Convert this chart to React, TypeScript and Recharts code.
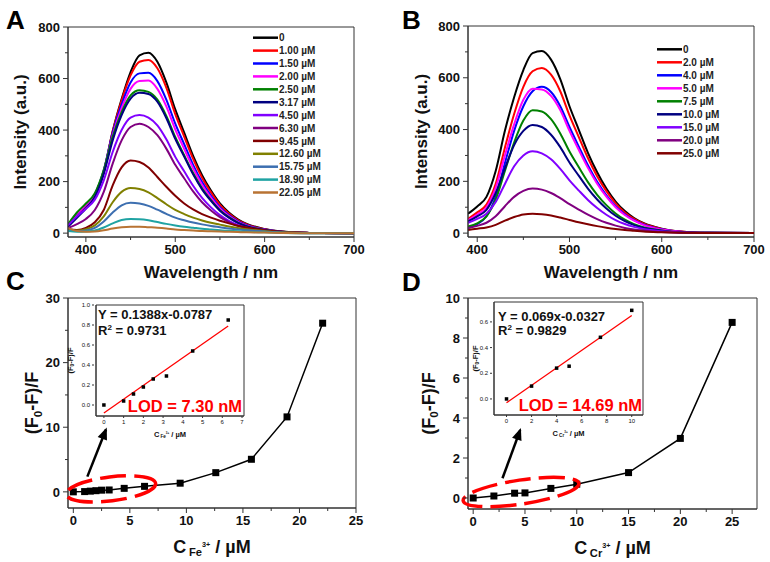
import React from 'react';
import { LineChart, Line, XAxis, YAxis, ReferenceArea, ReferenceLine, ReferenceDot, Label } from 'recharts';

const FONT = '"Liberation Sans", Arial, Helvetica, sans-serif';
const AXIS = '#333';
const RED = '#ff0000';

// ---- A: emission spectra vs Fe3+ ----
const wlFe = [380, 390, 400, 410, 420, 430, 440, 450, 460, 470, 480, 490, 500, 510, 520, 530, 540, 550, 560, 570, 580, 600, 620, 650, 700];
const feLabels = ['0', '1.00 µM', '1.50 µM', '2.00 µM', '2.50 µM', '3.17 µM', '4.50 µM', '6.30 µM', '9.45 µM', '12.60 µM', '15.75 µM', '18.90 µM', '22.05 µM'];
const feColors = ['#000000', '#ff0000', '#0000ff', '#ff00ff', '#008000', '#000080', '#8000ff', '#800080', '#800000', '#808000', '#3d6fb0', '#1fa3a3', '#b87333'];
const feI0 = [28, 70, 105, 145, 235, 395, 520, 625, 690, 700, 665, 585, 480, 390, 300, 225, 165, 115, 80, 54, 36, 16, 6, 1, 0];
const feI1 = [30, 72, 108, 148, 240, 395, 515, 612, 665, 672, 640, 565, 462, 375, 288, 215, 158, 110, 76, 51, 34, 15, 5, 1, 0];
const feI2 = [30, 75, 110, 150, 245, 390, 500, 585, 620, 622, 590, 518, 425, 345, 265, 198, 145, 101, 70, 47, 31, 14, 5, 1, 0];
const feI3 = [32, 75, 110, 150, 240, 380, 485, 560, 590, 592, 560, 492, 403, 327, 252, 188, 138, 96, 66, 44, 29, 13, 4, 1, 0];
const feI4 = [34, 80, 115, 155, 245, 375, 470, 535, 555, 548, 518, 455, 373, 302, 233, 174, 128, 89, 62, 41, 27, 12, 4, 1, 0];
const feI5 = [25, 60, 95, 140, 230, 360, 458, 522, 545, 540, 510, 447, 366, 297, 228, 170, 125, 87, 60, 40, 26, 12, 4, 1, 0];
const feI6 = [30, 65, 95, 130, 205, 315, 400, 448, 458, 448, 418, 364, 296, 240, 184, 137, 100, 70, 48, 32, 21, 9, 3, 1, 0];
const feI7 = [20, 35, 55, 90, 160, 270, 360, 412, 425, 412, 380, 328, 265, 213, 162, 120, 88, 62, 43, 28, 18, 8, 3, 1, 0];
const feI8 = [15, 12, 20, 42, 90, 185, 255, 282, 276, 255, 218, 180, 145, 115, 92, 74, 60, 48, 38, 29, 22, 11, 5, 1, 0];
const feI9 = [12, 10, 15, 30, 65, 120, 160, 175, 171, 158, 136, 112, 90, 74, 60, 49, 40, 33, 26, 20, 15, 8, 3, 1, 0];
const feI10 = [10, 8, 10, 20, 45, 80, 108, 118, 115, 106, 91, 75, 60, 50, 41, 34, 28, 23, 18, 14, 11, 6, 2, 0, 0];
const feI11 = [8, 5, 6, 10, 22, 38, 51, 55, 54, 50, 43, 36, 30, 25, 21, 17, 14, 11, 9, 7, 5, 3, 1, 0, 0];
const feI12 = [20, 8, 5, 6, 11, 18, 23, 25, 25, 23, 21, 18, 14, 12, 10, 8, 7, 6, 5, 4, 3, 2, 1, 0, 0];
const feSpectra = [feI0, feI1, feI2, feI3, feI4, feI5, feI6, feI7, feI8, feI9, feI10, feI11, feI12];

// ---- B: emission spectra vs Cr3+ ----
const wlCr = [390, 400, 410, 420, 430, 440, 450, 460, 470, 480, 490, 500, 510, 520, 530, 540, 550, 560, 570, 580, 600, 620, 650, 700];
const crLabels = ['0', '2.0 µM', '4.0 µM', '5.0 µM', '7.5 µM', '10.0 µM', '15.0 µM', '20.0 µM', '25.0 µM'];
const crColors = ['#000000', '#ff0000', '#0000ff', '#ff00ff', '#008000', '#000080', '#8000ff', '#800080', '#800000'];
const crI0 = [75, 103, 140, 240, 395, 525, 630, 695, 703, 670, 595, 490, 400, 310, 235, 172, 122, 85, 58, 39, 17, 6, 1, 0];
const crI1 = [55, 80, 110, 190, 330, 460, 565, 625, 638, 612, 548, 455, 372, 290, 220, 162, 115, 80, 55, 37, 16, 6, 1, 0];
const crI2 = [20, 35, 65, 140, 270, 395, 490, 548, 565, 545, 490, 410, 335, 262, 198, 146, 104, 73, 50, 34, 15, 5, 1, 0];
const crI3 = [50, 72, 100, 175, 300, 420, 515, 558, 555, 530, 475, 395, 322, 252, 191, 141, 100, 70, 48, 32, 14, 5, 1, 0];
const crI4 = [25, 38, 65, 130, 240, 350, 435, 475, 470, 440, 385, 315, 255, 197, 148, 108, 76, 52, 35, 23, 10, 3, 1, 0];
const crI5 = [45, 65, 90, 155, 250, 340, 395, 418, 410, 380, 332, 273, 222, 172, 130, 95, 67, 46, 31, 21, 9, 3, 1, 0];
const crI6 = [40, 55, 75, 120, 190, 258, 300, 316, 308, 285, 248, 204, 165, 128, 97, 71, 50, 35, 24, 16, 7, 2, 0, 0];
const crI7 = [20, 28, 40, 65, 104, 140, 163, 172, 168, 155, 135, 112, 91, 71, 54, 40, 29, 20, 14, 10, 4, 1, 0, 0];
const crI8 = [12, 17, 22, 32, 48, 62, 72, 75, 73, 68, 60, 51, 42, 34, 27, 21, 16, 12, 9, 6, 3, 1, 0, 0];
const crSpectra = [crI0, crI1, crI2, crI3, crI4, crI5, crI6, crI7, crI8];

// ---- C: (F0-F)/F vs Fe3+ ----
const feConc = [0, 1, 1.5, 2, 2.5, 3.17, 4.5, 6.3, 9.45, 12.6, 15.75, 18.9, 22.05];
const feRatio = [0, 0.04, 0.11, 0.18, 0.26, 0.29, 0.54, 0.85, 1.34, 2.97, 5.04, 11.6, 26.1];
const feFitX = [0, 6.3];
const feFitY = [-0.08, 0.79];

// ---- D: (F0-F)/F vs Cr3+ ----
const crConc = [0, 2, 4, 5, 7.5, 10, 15, 20, 25];
const crRatio = [0, 0.1, 0.24, 0.255, 0.48, 0.69, 1.27, 2.98, 8.78];
const crFitX = [0, 10];
const crFitY = [-0.03, 0.65];

type TickOpts = { size: number; gap: number; bold?: boolean; major: number; minor: number; fmt?: (v: number) => string };

function tickFn(axis: 'x' | 'y', majors: number[], o: TickOpts) {
  return (props: any) => {
    const { x, y, payload } = props;
    const v = payload.value as number;
    const isMajor = majors.some((m) => Math.abs(m - v) < 1e-6);
    const len = isMajor ? o.major : o.minor;
    const label = o.fmt ? o.fmt(v) : String(v);
    const txt = { fontSize: o.size, fontWeight: o.bold ? 'bold' : 'normal', fill: '#111', fontFamily: FONT } as any;
    if (axis === 'x') {
      const ay = y - o.gap;
      return (
        <g>
          <line x1={x} x2={x} y1={ay} y2={ay + len} stroke={AXIS} />
          {isMajor && <text x={x} y={y + o.size * 0.72} textAnchor="middle" {...txt}>{label}</text>}
        </g>
      );
    }
    const ax = x + o.gap;
    return (
      <g>
        <line x1={ax} x2={ax - len} y1={y} y2={y} stroke={AXIS} />
        {isMajor && <text x={x} y={y + o.size * 0.36} textAnchor="end" {...txt}>{label}</text>}
      </g>
    );
  };
}

const mainTick = { size: 13, gap: 8, bold: true, major: 5, minor: 3 };
const insetTick = { size: 6, gap: 4, major: 2, minor: 0, fmt: (v: number) => v.toFixed(1) };

const square = (s: number) => (p: any) => (
  <rect key={p.key ?? `${p.cx}-${p.cy}`} x={p.cx - s / 2} y={p.cy - s / 2} width={s} height={s} fill="#000" />
);

function ConcLabel({ x, y, ion, big, small }: { x: number; y: number; ion: string; big: number; small: number }) {
  return (
    <text x={x} y={y} textAnchor="middle" fontFamily={FONT} fontWeight="bold" fontSize={big} fill="#111">
      C<tspan dx={big * 0.15} dy={big * 0.22} fontSize={big * 0.62}>{ion}</tspan>
      <tspan dy={-big * 0.5} fontSize={big * 0.4}>3+</tspan>
      <tspan dy={big * 0.28} fontSize={big}> / µM</tspan>
    </text>
  );
}

function RatioLabel({ x, y, size }: { x: number; y: number; size: number }) {
  return (
    <text x={x} y={y} transform={`rotate(-90 ${x} ${y})`} textAnchor="middle" dominantBaseline="central" fontFamily={FONT} fontWeight="bold" fontSize={size} fill="#111">
      (F<tspan dy={size * 0.25} fontSize={size * 0.65}>0</tspan>
      <tspan dy={-size * 0.25}>-F)/F</tspan>
    </text>
  );
}

type SpectraProps = {
  wl: number[]; spectra: number[][]; colors: string[]; xMin: number;
  marginTop: number; marginRight: number; yWidth: number; titleX: number;
};

function Spectra({ wl, spectra, colors, xMin, marginTop, marginRight, yWidth, titleX }: SpectraProps) {
  const rows = wl.map((w, i) => {
    const row: Record<string, number> = { wl: w };
    spectra.forEach((s, j) => (row['s' + j] = s[i]));
    return row;
  });
  return (
    <LineChart width={385} height={282} data={rows} margin={{ top: marginTop, right: marginRight, bottom: 0, left: 0 }}>
      <XAxis dataKey="wl" type="number" domain={[xMin, 700]} allowDataOverflow ticks={[400, 450, 500, 550, 600, 650, 700]} interval={0}
        tickSize={0} tickMargin={8} height={45} axisLine={{ stroke: AXIS }} tick={tickFn('x', [400, 500, 600, 700], mainTick)}>
        <Label content={(p: any) => (
          <text x={p.viewBox.x + p.viewBox.width / 2} y={p.viewBox.y + 40.5} textAnchor="middle" fontFamily={FONT} fontWeight="bold" fontSize={17} fill="#111">Wavelength / nm</text>
        )} />
      </XAxis>
      <YAxis type="number" domain={[-15, 800]} allowDataOverflow ticks={[0, 100, 200, 300, 400, 500, 600, 700, 800]} interval={0}
        tickSize={0} tickMargin={8} width={yWidth} axisLine={{ stroke: AXIS }} tick={tickFn('y', [0, 200, 400, 600, 800], mainTick)}>
        <Label content={(p: any) => {
          const cx = p.viewBox.x + titleX;
          const cy = p.viewBox.y + p.viewBox.height / 2;
          return (
            <text x={cx} y={cy} transform={`rotate(-90 ${cx} ${cy})`} textAnchor="middle" dominantBaseline="central" fontFamily={FONT} fontWeight="bold" fontSize={17} fill="#111">Intensity (a.u.)</text>
          );
        }} />
      </YAxis>
      <ReferenceArea x1={xMin} x2={700} y1={-15} y2={800} fill="none" stroke={AXIS} />
      {spectra.map((_, j) => (
        <Line key={j} dataKey={'s' + j} type="monotone" stroke={colors[j]} strokeWidth={2} dot={false} isAnimationActive={false} />
      ))}
    </LineChart>
  );
}

type RatioProps = {
  conc: number[]; ratio: number[]; ion: string; xDomain: [number, number]; xTicks: number[]; xMajors: number[];
  yDomain: [number, number]; yTicks: number[]; yMajors: number[]; marginRight: number; yWidth: number; xHeight: number;
  titleX: number; ellipse: { x: number; y: number; rx: number; rot: number }; arrow: { x1: number; y1: number; x2: number; y2: number; ang: number };
};

function RatioChart(p: RatioProps) {
  const rows = p.conc.map((c, i) => ({ c, r: p.ratio[i] }));
  return (
    <LineChart width={385} height={284} data={rows} margin={{ top: 20, right: p.marginRight, bottom: 0, left: 0 }}>
      <XAxis dataKey="c" type="number" domain={p.xDomain} allowDataOverflow ticks={p.xTicks} interval={0}
        tickSize={0} tickMargin={8} height={p.xHeight} axisLine={{ stroke: AXIS }} tick={tickFn('x', p.xMajors, mainTick)}>
        <Label content={(q: any) => (
          <ConcLabel x={q.viewBox.x + q.viewBox.width / 2} y={q.viewBox.y + 44.5} ion={p.ion} big={18} small={11} />
        )} />
      </XAxis>
      <YAxis type="number" domain={p.yDomain} allowDataOverflow ticks={p.yTicks} interval={0}
        tickSize={0} tickMargin={8} width={p.yWidth} axisLine={{ stroke: AXIS }} tick={tickFn('y', p.yMajors, mainTick)}>
        <Label content={(q: any) => <RatioLabel x={q.viewBox.x + p.titleX} y={q.viewBox.y + q.viewBox.height / 2} size={18} />} />
      </YAxis>
      <ReferenceArea x1={p.xDomain[0]} x2={p.xDomain[1]} y1={p.yDomain[0]} y2={p.yDomain[1]} fill="none" stroke={AXIS} />
      <Line dataKey="r" type="linear" stroke="#000" strokeWidth={1.5} dot={square(7)} isAnimationActive={false} />
      <ReferenceDot x={p.ellipse.x} y={p.ellipse.y} r={1} shape={(s: any) => (
        <ellipse cx={s.cx} cy={s.cy} rx={p.ellipse.rx} ry={12} transform={`rotate(${p.ellipse.rot} ${s.cx} ${s.cy})`}
          fill="none" stroke={RED} strokeWidth={3.5} strokeDasharray="26 8" />
      )} />
      <ReferenceLine segment={[{ x: p.arrow.x1, y: p.arrow.y1 }, { x: p.arrow.x2, y: p.arrow.y2 }]} stroke="#000" strokeWidth={2.5} />
      <ReferenceDot x={p.arrow.x2} y={p.arrow.y2} r={1} shape={(s: any) => (
        <polygon points="2,0 -10,-5 -10,5" fill="#000" transform={`translate(${s.cx} ${s.cy}) rotate(${p.arrow.ang})`} />
      )} />
    </LineChart>
  );
}

type InsetProps = {
  conc: number[]; ratio: number[]; fitX: number[]; fitY: number[]; ion: string; width: number; xHeight: number;
  xDomain: [number, number]; xTicks: number[]; yDomain: [number, number]; yTicks: number[]; titleX: number;
};

function Inset(p: InsetProps) {
  const pts = p.conc.map((c, i) => ({ x: c, r: p.ratio[i] }));
  const fit = p.fitX.map((x, i) => ({ x, f: p.fitY[i] }));
  return (
    <LineChart width={p.width} height={145} margin={{ top: 5, right: 6, bottom: 0, left: 0 }}>
      <XAxis dataKey="x" type="number" domain={p.xDomain} allowDataOverflow ticks={p.xTicks} interval={0}
        tickSize={0} tickMargin={4} height={p.xHeight} axisLine={{ stroke: AXIS }} tick={tickFn('x', p.xTicks, { ...insetTick, fmt: (v) => String(v) })}>
        <Label content={(q: any) => (
          <ConcLabel x={q.viewBox.x + q.viewBox.width / 2} y={q.viewBox.y + 20.5} ion={p.ion} big={7.5} small={5} />
        )} />
      </XAxis>
      <YAxis type="number" domain={p.yDomain} allowDataOverflow ticks={p.yTicks} interval={0}
        tickSize={0} tickMargin={6} width={34} axisLine={{ stroke: AXIS }} tick={tickFn('y', p.yTicks, insetTick)}>
        <Label content={(q: any) => <RatioLabel x={q.viewBox.x + p.titleX} y={q.viewBox.y + q.viewBox.height / 2} size={7.5} />} />
      </YAxis>
      <ReferenceArea x1={p.xDomain[0]} x2={p.xDomain[1]} y1={p.yDomain[0]} y2={p.yDomain[1]} fill="none" stroke={AXIS} />
      <Line data={fit} dataKey="f" type="linear" stroke={RED} strokeWidth={1.3} dot={false} isAnimationActive={false} />
      <Line data={pts} dataKey="r" type="linear" stroke="none" dot={square(3.5)} isAnimationActive={false} />
    </LineChart>
  );
}

function LegendBox({ labels, colors, x, y, step }: { labels: string[]; colors: string[]; x: number; y: number; step: number }) {
  return (
    <g>
      {labels.map((l, i) => (
        <g key={l}>
          <line x1={x} x2={x + 25} y1={y + i * step} y2={y + i * step} stroke={colors[i]} strokeWidth={2.5} />
          <text x={x + 26} y={y + i * step + 3.6} fontFamily={FONT} fontWeight="bold" fontSize={10} fill="#222">{l}</text>
        </g>
      ))}
    </g>
  );
}

const abs = (left: number, top: number): React.CSSProperties => ({ position: 'absolute', left, top });

export default function App() {
  const letter = { fontFamily: FONT, fontWeight: 'bold', fontSize: 26, fill: '#000' } as any;
  const eq = { fontFamily: FONT, fontWeight: 'bold', fontSize: 13, fill: '#111' } as any;
  const lod = { fontFamily: FONT, fontWeight: 'bold', fontSize: 16.5, fill: RED, textAnchor: 'end' } as any;
  return (
    <div style={{ position: 'absolute', left: 0, top: 0, width: 770, height: 562, background: '#fff', overflow: 'hidden' }}>
      <div style={abs(0, 0)}>
        <Spectra wl={wlFe} spectra={feSpectra} colors={feColors} xMin={380} marginTop={27} marginRight={31} yWidth={68} titleX={20} />
      </div>
      <div style={abs(385, 0)}>
        <Spectra wl={wlCr} spectra={crSpectra} colors={crColors} xMin={390} marginTop={26} marginRight={16} yWidth={83} titleX={36.5} />
      </div>
      <div style={abs(0, 278)}>
        <RatioChart conc={feConc} ratio={feRatio} ion="Fe" xDomain={[-0.47, 25]} xTicks={[0, 2.5, 5, 7.5, 10, 12.5, 15, 17.5, 20, 22.5, 25]}
          xMajors={[0, 5, 10, 15, 20, 25]} yDomain={[-2.5, 30]} yTicks={[0, 5, 10, 15, 20, 25, 30]} yMajors={[0, 10, 20, 30]}
          marginRight={29} yWidth={68} xHeight={54} titleX={32}
          ellipse={{ x: 3.33, y: 0.46, rx: 45, rot: -7 }} arrow={{ x1: 1.24, y1: 2.36, x2: 2.89, y2: 9.66, ang: -68.5 }} />
      </div>
      <div style={abs(385, 278)}>
        <RatioChart conc={crConc} ratio={crRatio} ion="Cr" xDomain={[-0.5, 27.4]} xTicks={[0, 2.5, 5, 7.5, 10, 12.5, 15, 17.5, 20, 22.5, 25]}
          xMajors={[0, 5, 10, 15, 20, 25]} yDomain={[-0.55, 10]} yTicks={[0, 1, 2, 3, 4, 5, 6, 7, 8, 9, 10]} yMajors={[0, 2, 4, 6, 8, 10]}
          marginRight={13} yWidth={83} xHeight={53} titleX={43.5}
          ellipse={{ x: 4.62, y: 0.3, rx: 58.5, rot: -8.5 }} arrow={{ x1: 2.83, y1: 0.985, x2: 4.54, y2: 3.4, ang: -70 }} />
      </div>
      <div style={abs(62, 300)}>
        <Inset conc={feConc.slice(0, 8)} ratio={feRatio.slice(0, 8)} fitX={feFitX} fitY={feFitY} ion="Fe" width={188} xHeight={29}
          xDomain={[-0.4, 7.1]} xTicks={[0, 1, 2, 3, 4, 5, 6, 7]} yDomain={[-0.11, 1.0]} yTicks={[0, 0.2, 0.4, 0.6, 0.8, 1.0]} titleX={8} />
      </div>
      <div style={abs(460, 297)}>
        <Inset conc={crConc.slice(0, 6)} ratio={crRatio.slice(0, 6)} fitX={crFitX} fitY={crFitY} ion="Cr" width={189} xHeight={27}
          xDomain={[-1, 10.9]} xTicks={[0, 2, 4, 6, 8, 10]} yDomain={[-0.125, 0.755]} yTicks={[0, 0.2, 0.4, 0.6]} titleX={15} />
      </div>
      <svg width={770} height={562} style={{ position: 'absolute', left: 0, top: 0, pointerEvents: 'none' }}>
        <text x={6} y={29} {...letter}>A</text>
        <text x={402} y={29} {...letter}>B</text>
        <text x={6} y={290} {...letter}>C</text>
        <text x={402} y={291} {...letter}>D</text>
        <LegendBox labels={feLabels} colors={feColors} x={253} y={37.7} step={12.9} />
        <LegendBox labels={crLabels} colors={crColors} x={657} y={49.3} step={13} />
        <text x={98} y={319} {...eq}>Y = 0.1388x-0.0787</text>
        <text x={98} y={335} {...eq}>R<tspan dy={-5} fontSize={8}>2</tspan><tspan dy={5}> = 0.9731</tspan></text>
        <text x={242} y={412} {...lod}>LOD = 7.30 nM</text>
        <text x={498} y={320.5} {...eq}>Y = 0.069x-0.0327</text>
        <text x={498} y={335} {...eq}>R<tspan dy={-5} fontSize={8}>2</tspan><tspan dy={5}> = 0.9829</tspan></text>
        <text x={642} y={411} {...lod}>LOD = 14.69 nM</text>
      </svg>
    </div>
  );
}
